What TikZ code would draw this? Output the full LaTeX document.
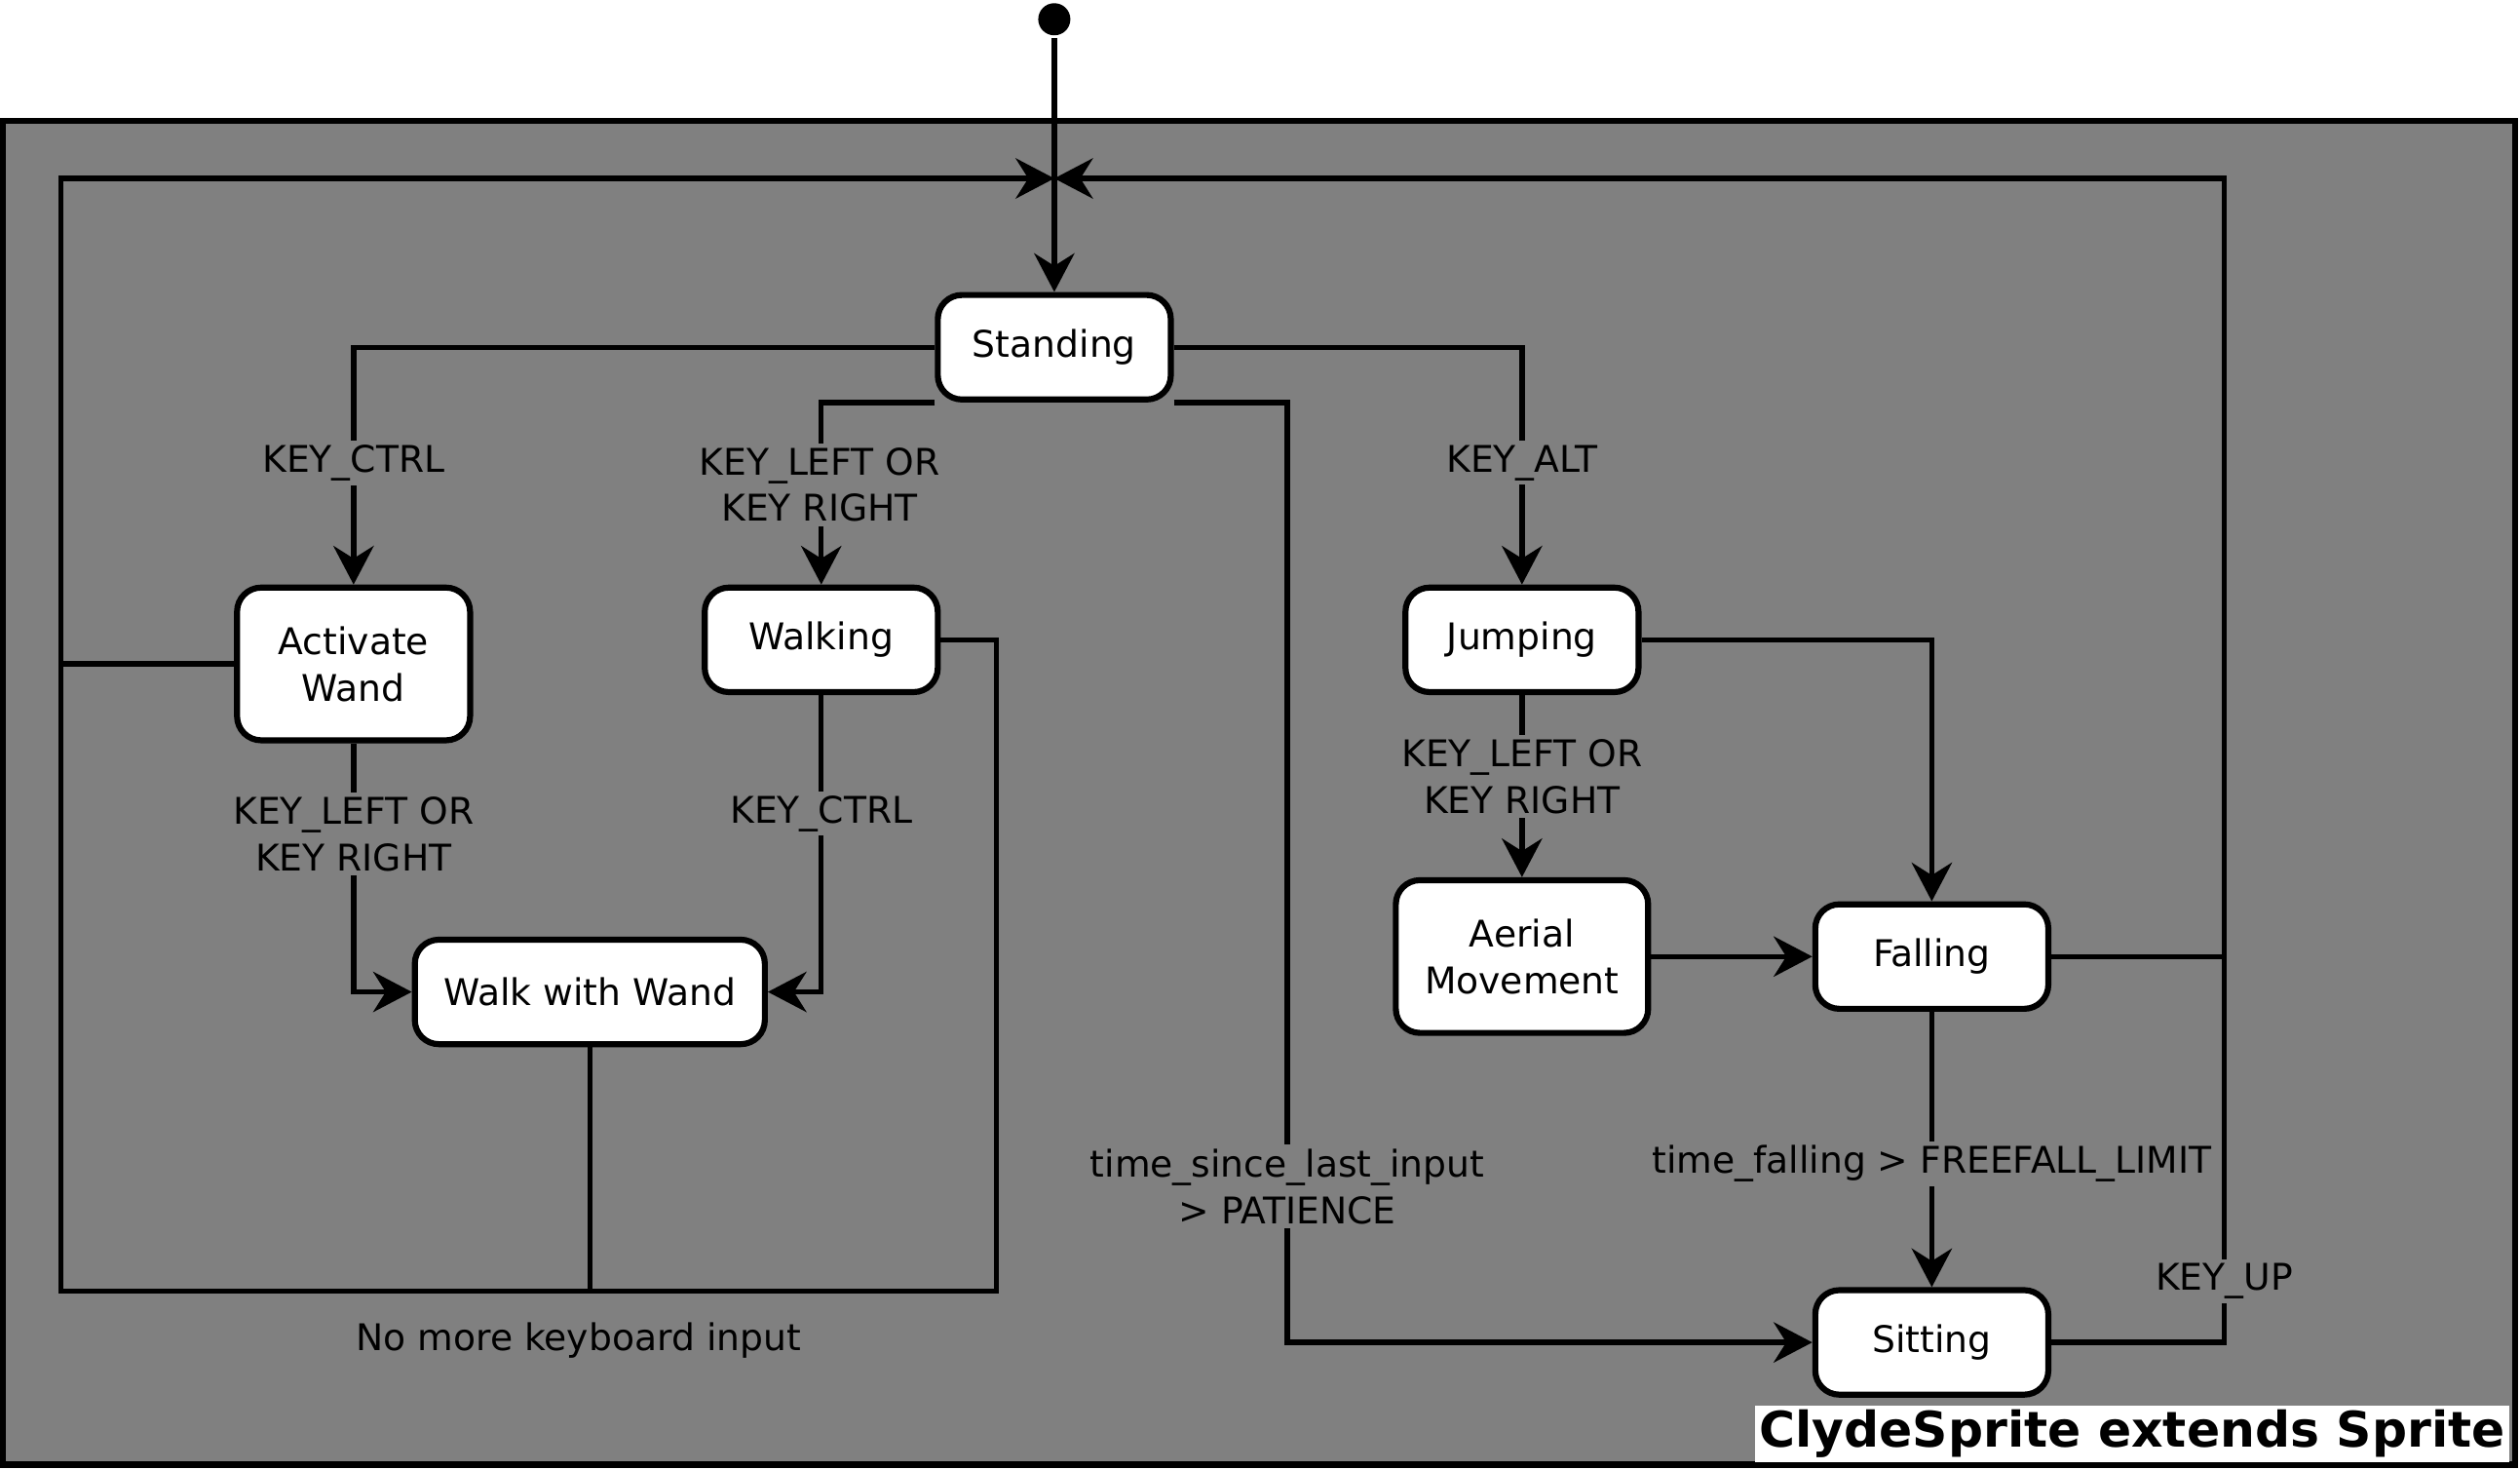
\documentclass[tikz,border=0pt]{standalone}
\usepackage{fontspec}
\setmainfont{DejaVu Sans}
\usetikzlibrary{arrows.meta}

\begin{document}
\begin{tikzpicture}[
	state/.style={rectangle, rounded corners=0.3cm, draw, line width=0.075cm, fill=white, minimum width=2.9cm, minimum height=1.3cm, inner xsep=0.36cm, align=center},
	lbl/.style={fill=gray, inner sep=1.5pt, align=center},
	arr/.style={-{Stealth[length=0.48cm, width=0.5cm]}},
	line width=0.065cm, font=\fontsize{13pt}{16.5pt}\selectfont]

	\useasboundingbox (0, 0) rectangle (31.36, 18.28);
	\filldraw [fill=gray, line width=0.075cm] (0.04, 0.06) rectangle (31.3, 16.78);

	\node (init) [circle, fill, inner sep=0, minimum size=0.4cm] at (13.12, 18.04) {};

	\node (standing) [state] at (13.12, 13.96) {Standing};
	\node (wand) [state, minimum height=1.9cm] at (4.4, 10.02) {Activate\\Wand};
	\node (walking) [state] at (10.22, 10.32) {Walking};
	\node (wwand) [state] at (7.34, 5.94) {Walk with Wand};
	\node (jumping) [state] at (18.94, 10.32) {Jumping};
	\node (aerial) [state, minimum height=1.9cm] at (18.94, 6.38) {Aerial\\Movement};
	\node (falling) [state] at (24.04, 6.38) {Falling};
	\node (sitting) [state] at (24.04, 1.58) {Sitting};

	\coordinate (merge) at (13.12, 16.06);
	\coordinate (lt) at (0.76, 16.06);
	\coordinate (lb) at (0.76, 2.22);
	\coordinate (rb) at (12.4, 2.22);
	\coordinate (rt) at (27.68, 16.06);
	\coordinate (wait) at (16.02, 1.58);

	\draw [arr] (init) -- (standing);
	\draw [arr] (standing.west) -| (wand);
	\draw [arr] (standing.south west) -| (walking);
	\draw [arr] (standing.east) -| (jumping);
	\draw [arr] (standing.south east) -| (wait) -- (sitting);

	\draw [arr] (wand) |- (wwand);
	\draw [arr] (walking) |- (wwand);
	\draw [arr] (jumping) -- (aerial);
	\draw [arr] (jumping) -| (falling);
	\draw [arr] (aerial) -- (falling);
	\draw [arr] (falling) -- (sitting);

	% back to standing
	\draw [arr] (walking) -| (rb) -- (lb) -- (lt) -- (merge);
	\draw (wand) -- (wand -| lt);
	\draw (wwand) -- (wwand |- lb);
	\draw [arr] (sitting) -| (rt) -- (merge);
	\draw (falling) -- (falling -| rt);

	\node (l1) [lbl] at (4.4, 12.52) {KEY\_CTRL};
	\node (l2) [lbl] at (10.2, 12.25) {KEY\_LEFT OR\\KEY RIGHT};
	\node (l3) [lbl] at (18.94, 12.52) {KEY\_ALT};
	\node (l4) [lbl] at (16.02, 3.52) {time\_since\_last\_input\\> PATIENCE};
	\node (l5) [lbl] at (4.4, 7.9) {KEY\_LEFT OR\\KEY RIGHT};
	\node (l6) [lbl] at (10.22, 8.16) {KEY\_CTRL};
	\node (l7) [lbl] at (18.94, 8.62) {KEY\_LEFT OR\\KEY RIGHT};
	\node (l8) [lbl] at (24.04, 3.8) {time\_falling > FREEFALL\_LIMIT};
	\node (l9) [lbl] at (27.68, 2.34) {KEY\_UP};
	\node (l10) at (7.2, 1.6) {No more keyboard input};

	\node (title) [anchor=south east, fill=white, inner sep=1.5pt, font=\fontsize{17.4pt}{20pt}\selectfont\bfseries] at (31.26, 0.06) {ClydeSprite extends Sprite};

\end{tikzpicture}
\end{document}
